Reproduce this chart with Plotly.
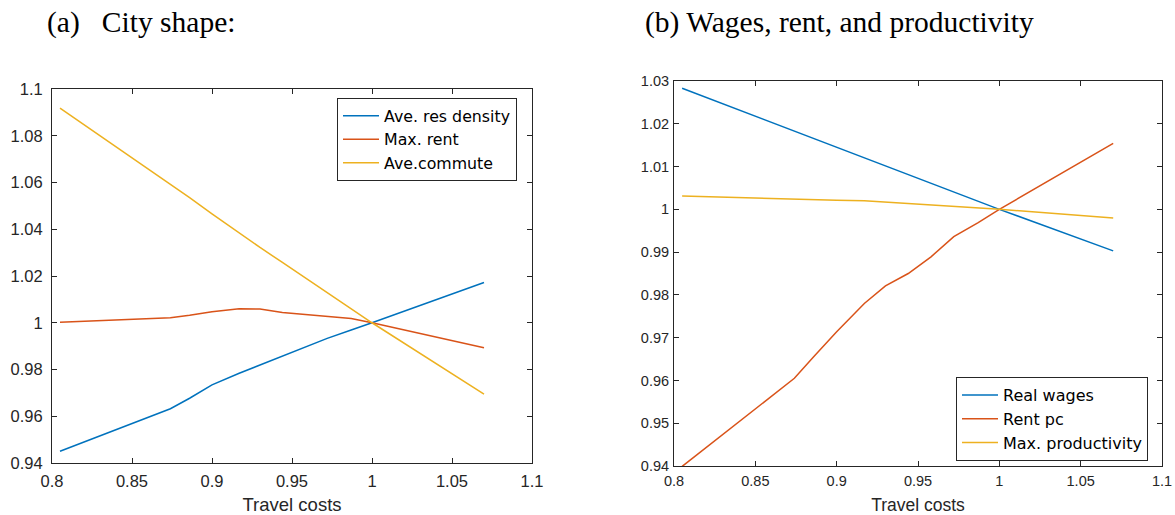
import plotly.graph_objects as go

# ---------------- data ----------------
travel_costs = [0.805, 0.874, 0.886, 0.900, 0.917, 0.930, 0.944, 0.958, 0.972, 0.987, 1.000, 1.070]

# (a) City shape
ave_res_density = [0.9450, 0.9632, 0.9677, 0.9734, 0.9784, 0.9820, 0.9858, 0.9895, 0.9933, 0.9969, 1.0000, 1.0172]
max_rent        = [1.0002, 1.0021, 1.0032, 1.0047, 1.0060, 1.0059, 1.0044, 1.0035, 1.0027, 1.0018, 1.0000, 0.9893]
ave_commute     = [1.0918, 1.0594, 1.0535, 1.0466, 1.0384, 1.0322, 1.0258, 1.0193, 1.0128, 1.0061, 1.0000, 0.9695]

# (b) Wages, rent, and productivity
real_wages       = [1.0283, 1.0183, 1.0165, 1.0145, 1.0120, 1.0102, 1.0081, 1.0061, 1.0041, 1.0019, 1.0000, 0.9903]
rent_pc          = [0.9399, 0.9605, 0.9656, 0.9714, 0.9780, 0.9821, 0.9850, 0.9889, 0.9936, 0.9969, 1.0000, 1.0154]
max_productivity = [1.0031, 1.0023, 1.0022, 1.0021, 1.0020, 1.0017, 1.0013, 1.0010, 1.0007, 1.0004, 1.0000, 0.9980]

x_ticks = [0.8, 0.85, 0.9, 0.95, 1.0, 1.05, 1.1]
x_tick_text = ["0.8", "0.85", "0.9", "0.95", "1", "1.05", "1.1"]
ya_ticks = [0.94, 0.96, 0.98, 1.0, 1.02, 1.04, 1.06, 1.08, 1.1]
ya_tick_text = ["0.94", "0.96", "0.98", "1", "1.02", "1.04", "1.06", "1.08", "1.1"]
yb_ticks = [0.94, 0.95, 0.96, 0.97, 0.98, 0.99, 1.0, 1.01, 1.02, 1.03]
yb_tick_text = ["0.94", "0.95", "0.96", "0.97", "0.98", "0.99", "1", "1.01", "1.02", "1.03"]

title_a = "(a)\u00a0\u00a0\u00a0City shape:"
title_b = "(b) Wages, rent, and productivity"
x_title = "Travel costs"

# ---------------- style ----------------
C1, C2, C3 = "#0072BD", "#D95319", "#EDB120"
AX = "#262626"
SANS = "Liberation Sans, Arial, sans-serif"
LEGF = "DejaVu Sans, sans-serif"
SERIF = "Liberation Serif, Times New Roman, serif"

fig = go.Figure()

for name, ys, c in [("Ave. res density", ave_res_density, C1),
                    ("Max. rent", max_rent, C2),
                    ("Ave.commute", ave_commute, C3)]:
    fig.add_trace(go.Scatter(x=travel_costs, y=ys, mode="lines", name=name,
                             line=dict(color=c, width=1.5), xaxis="x", yaxis="y",
                             legend="legend"))

for name, ys, c in [("Real wages", real_wages, C1),
                    ("Rent pc", rent_pc, C2),
                    ("Max. productivity", max_productivity, C3)]:
    fig.add_trace(go.Scatter(x=travel_costs, y=ys, mode="lines", name=name,
                             line=dict(color=c, width=1.5), xaxis="x2", yaxis="y2",
                             legend="legend2"))

W, H = 1175, 515

def axis_common(fs, standoff):
    return dict(showline=True, linecolor=AX, linewidth=1, mirror="ticks",
                ticks="inside", ticklen=5, tickwidth=1, tickcolor=AX,
                showgrid=False, zeroline=False, automargin=False,
                ticklabelstandoff=standoff,
                tickfont=dict(family=SANS, size=fs, color=AX))

xa = axis_common(16.5, 3)
xa.update(domain=[52 / W, 532 / W], range=[0.8, 1.1], tickvals=x_ticks, ticktext=x_tick_text,
          anchor="y", title=dict(text=x_title, font=dict(family=SANS, size=18.5, color=AX), standoff=14))
ya = axis_common(16.5, 5)
ya.update(domain=[1 - 463 / H, 1 - 89 / H], range=[0.94, 1.1], tickvals=ya_ticks,
          ticktext=ya_tick_text, anchor="x")
xb = axis_common(14.5, 2)
xb.update(domain=[674 / W, 1162 / W], range=[0.8, 1.1], tickvals=x_ticks, ticktext=x_tick_text,
          anchor="y2", title=dict(text=x_title, font=dict(family=SANS, size=17.5, color=AX), standoff=13))
yb = axis_common(14.5, 1)
yb.update(domain=[1 - 466 / H, 1 - 81 / H], range=[0.94, 1.03], tickvals=yb_ticks,
          ticktext=yb_tick_text, anchor="x2")

legend_common = dict(bgcolor="white", bordercolor=AX, borderwidth=1,
                     xanchor="left", yanchor="top", tracegroupgap=0, itemwidth=36)

fig.update_layout(
    template="none",
    width=W, height=H,
    margin=dict(l=0, r=0, t=0, b=0),
    paper_bgcolor="white", plot_bgcolor="white",
    xaxis=xa, yaxis=ya, xaxis2=xb, yaxis2=yb,
    showlegend=True,
    legend=dict(x=337 / W, y=1 - 98 / H, font=dict(family=LEGF, size=15.8, color="black"), **legend_common),
    legend2=dict(x=956 / W, y=1 - 377 / H, font=dict(family=LEGF, size=16, color="black"), **legend_common),
    annotations=[
        dict(text=title_a, x=45 / W, y=1 - 22 / H, xref="paper", yref="paper",
             xanchor="left", yanchor="middle", showarrow=False,
             font=dict(family=SERIF, size=29.5, color="black")),
        dict(text=title_b, x=643 / W, y=1 - 22 / H, xref="paper", yref="paper",
             xanchor="left", yanchor="middle", showarrow=False,
             font=dict(family=SERIF, size=29.5, color="black")),
    ],
)

fig.write_html("out.html")
